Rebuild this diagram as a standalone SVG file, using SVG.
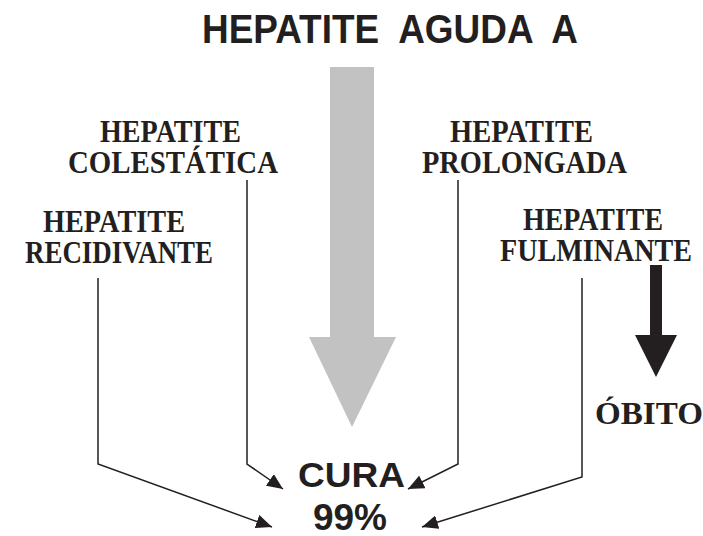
<svg xmlns="http://www.w3.org/2000/svg" width="703" height="536" viewBox="0 0 703 536">
<defs>
<marker id="ah" viewBox="0 0 16 14" refX="16" refY="7" markerWidth="16" markerHeight="14" markerUnits="userSpaceOnUse" orient="auto">
<path d="M0,0 L16,7 L0,14 Z" fill="#231f20"/>
</marker>
</defs>
<style>
.lbl{font-family:"Liberation Serif","Times New Roman",serif;font-weight:bold;font-size:31px;fill:#231f20}
.big{font-family:"Liberation Sans",Arial,sans-serif;font-weight:bold;fill:#231f20}
.con{fill:none;stroke:#231f20;stroke-width:1.5}
</style>
<rect width="703" height="536" fill="#ffffff"/>
<g id="title"><text class="big" x="202" y="43" font-size="40" textLength="376" lengthAdjust="spacingAndGlyphs" xml:space="preserve">HEPATITE  AGUDA  A</text></g>
<g id="mainArrow"><path d="M330,67 L374,67 L374,337 L396,337 L352,427 L309,337 L330,337 Z" fill="#c2c2c2"/></g>
<g id="colestatica"><text class="lbl" x="100" y="142" textLength="141" lengthAdjust="spacingAndGlyphs">HEPATITE</text><text class="lbl" x="68" y="173" textLength="210" lengthAdjust="spacingAndGlyphs">COLESTÁTICA</text></g>
<g id="recidivante"><text class="lbl" x="43" y="232" textLength="142" lengthAdjust="spacingAndGlyphs">HEPATITE</text><text class="lbl" x="25" y="263" textLength="188" lengthAdjust="spacingAndGlyphs">RECIDIVANTE</text></g>
<g id="prolongada"><text class="lbl" x="450" y="142" textLength="143" lengthAdjust="spacingAndGlyphs">HEPATITE</text><text class="lbl" x="422" y="173" textLength="205" lengthAdjust="spacingAndGlyphs">PROLONGADA</text></g>
<g id="fulminante"><text class="lbl" x="523" y="230" textLength="140" lengthAdjust="spacingAndGlyphs">HEPATITE</text><text class="lbl" x="500" y="261" textLength="192" lengthAdjust="spacingAndGlyphs">FULMINANTE</text></g>
<g id="obitoArrow"><path d="M650,265 L662,265 L662,335 L677,335 L656,377 L635,335 L650,335 Z" fill="#231f20"/></g>
<g id="obito"><text class="lbl" x="595" y="424" font-size="35" textLength="108" lengthAdjust="spacingAndGlyphs">ÓBITO</text></g>
<g id="cura"><text class="big" x="298" y="487" font-size="35" textLength="107" lengthAdjust="spacingAndGlyphs">CURA</text><text class="big" x="313" y="530" font-size="36" textLength="74" lengthAdjust="spacingAndGlyphs">99%</text></g>
<g id="connectors">
<path class="con" d="M98,278 L98,464 L272,527" marker-end="url(#ah)"/>
<path class="con" d="M247,180 L247,464 L283,489" marker-end="url(#ah)"/>
<path class="con" d="M458,180 L458,464 L408,489" marker-end="url(#ah)"/>
<path class="con" d="M582,278 L582,477 L422,527" marker-end="url(#ah)"/>
</g>
</svg>
